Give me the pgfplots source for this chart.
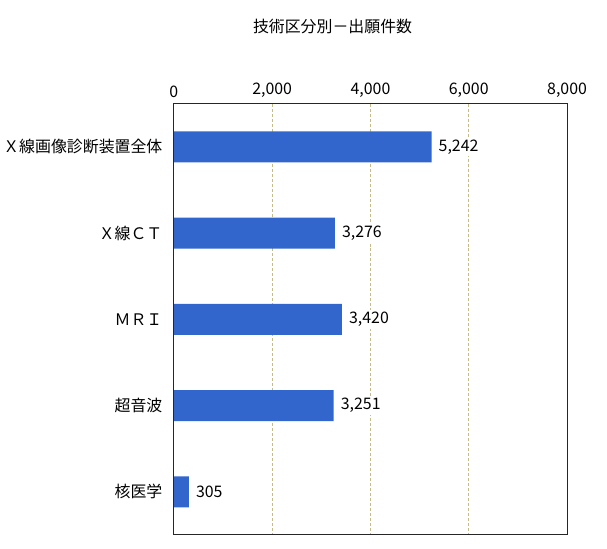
\documentclass[border=0pt]{standalone}
\usepackage{fontspec}
\setmainfont{Noto Sans CJK JP}
\usepackage{pgfplots}
\pgfplotsset{compat=1.18}
\definecolor{barc}{RGB}{51,102,204}
\definecolor{gridc}{RGB}{196,186,140}

\begin{document}
\begin{tikzpicture}
\begin{axis}[
  name=ax,
  scale only axis,
  width=394bp, height=432bp,
  xbar, bar width=31bp,
  xmin=0, xmax=8000,
  ymin=-0.5, ymax=4.5,
  y dir=reverse,
  ytick={0,1,2,3,4},
  yticklabels={Ｘ線画像診断装置全体, Ｘ線ＣＴ, ＭＲＩ, 超音波, 核医学},
  xtick={0,2000,4000,6000,8000},
  xticklabel pos=right,
  major tick length=0,
  xmajorgrids,
  grid style={gridc, dash pattern=on 3bp off 2bp, line width=0.8bp},
  axis line style={draw=none},
  scaled x ticks=false,
  font=\fontsize{16}{19}\selectfont,
  xticklabel style={yshift=3bp},
  yticklabel style={xshift=-8bp},
  nodes near coords,
  point meta=x,
  nodes near coords style={fill=white, inner sep=2bp, anchor=west, xshift=5bp},
  /pgf/number format/1000 sep={,},
  /pgf/number format/assume math mode=true,
]
\addplot[fill=barc, draw=none] coordinates {
  (5242,0)
  (3276,1)
  (3420,2)
  (3251,3)
  (305,4)
};
\end{axis}
\draw[line width=0.9bp, black!85] (ax.south west) rectangle (ax.north east);
\node[font=\fontsize{16}{19}\selectfont] at ([shift={(159bp,77bp)}]ax.north west) {技術区分別－出願件数};
\path ([shift={(-173bp,-14bp)}]ax.south west) rectangle ([shift={(40bp,104bp)}]ax.north east);
\end{tikzpicture}
\end{document}
